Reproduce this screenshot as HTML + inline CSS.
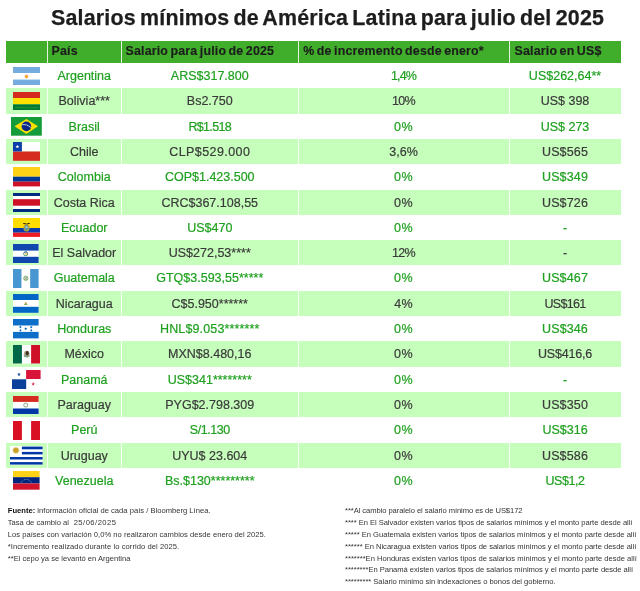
<!DOCTYPE html>
<html lang="es"><head><meta charset="utf-8"><title>Salarios mínimos de América Latina</title>
<style>
html,body{margin:0;padding:0;background:#fff;}
body{width:640px;height:591px;position:relative;overflow:hidden;font-family:"Liberation Sans",sans-serif;color:#333;}
h1{position:absolute;left:51px;top:6px;margin:0;font-size:21.4px;line-height:25px;font-weight:bold;color:#1d1d1d;letter-spacing:0.2px;word-spacing:-1.96px;-webkit-text-stroke:0.25px #1d1d1d;white-space:nowrap;}
.hd{position:absolute;left:6px;top:41px;width:615px;height:22px;background:#40ae2b;}
.hd span{position:absolute;top:-0.8px;height:22px;line-height:22px;font-weight:bold;font-size:12.4px;color:#1c1c1c;letter-spacing:0.18px;word-spacing:-1.2px;-webkit-text-stroke:0.15px #1c1c1c;white-space:nowrap;}
.sep{position:absolute;top:41px;width:1px;height:452px;background:rgba(255,255,255,.85);}
.r{position:absolute;left:6px;width:615px;height:25.3px;}
.r.a{color:#1fa11f;}
.r.b{background:#c6ffbb;color:#3a3a3a;}
.r span{position:absolute;top:1px;height:25.3px;line-height:25.3px;font-size:12.5px;text-align:center;white-space:nowrap;-webkit-text-stroke:0.2px currentColor;}
.c1{left:41px;width:74.5px;}
.c2{left:115.5px;width:176.5px;}
.c3{left:292px;width:211px;}
.c4{left:503px;width:112px;}
svg{position:absolute;display:block;}
.fn{position:absolute;font-size:7.6px;line-height:11.87px;color:#333;}
.fn p{margin:0;white-space:pre;}
.fn b{color:#111;}
</style></head><body>
<h1>Salarios mínimos de América Latina para julio del 2025</h1>
<div class="hd"><span style="left:45.6px">País</span><span style="left:119.5px">Salario para julio de 2025</span><span style="left:297.2px">% de incremento desde enero*</span><span style="left:508.6px">Salario en US$</span></div>
<div class="r a" style="top:63.0px"><span class="c1">Argentina</span><span class="c2">ARS$317.800</span><span class="c3" style="letter-spacing:-0.85px">1,4%</span><span class="c4">US$262,64**</span></div>
<div class="r b" style="top:88.3px"><span class="c1">Bolivia***</span><span class="c2">Bs2.750</span><span class="c3" style="letter-spacing:-0.65px">10%</span><span class="c4">US$ 398</span></div>
<div class="r a" style="top:113.6px"><span class="c1">Brasil</span><span class="c2" style="letter-spacing:-0.67px">R$1.518</span><span class="c3" style="letter-spacing:0.4px">0%</span><span class="c4">US$ 273</span></div>
<div class="r b" style="top:138.9px"><span class="c1">Chile</span><span class="c2" style="letter-spacing:0.42px">CLP$529.000</span><span class="c3">3,6%</span><span class="c4" style="letter-spacing:0.15px">US$565</span></div>
<div class="r a" style="top:164.2px"><span class="c1">Colombia</span><span class="c2">COP$1.423.500</span><span class="c3" style="letter-spacing:0.4px">0%</span><span class="c4" style="letter-spacing:0.15px">US$349</span></div>
<div class="r b" style="top:189.5px"><span class="c1">Costa Rica</span><span class="c2">CRC$367.108,55</span><span class="c3" style="letter-spacing:0.4px">0%</span><span class="c4" style="letter-spacing:0.15px">US$726</span></div>
<div class="r a" style="top:214.8px"><span class="c1">Ecuador</span><span class="c2">US$470</span><span class="c3" style="letter-spacing:0.4px">0%</span><span class="c4">-</span></div>
<div class="r b" style="top:240.1px"><span class="c1">El Salvador</span><span class="c2">US$272,53****</span><span class="c3" style="letter-spacing:-0.75px">12%</span><span class="c4">-</span></div>
<div class="r a" style="top:265.4px"><span class="c1">Guatemala</span><span class="c2">GTQ$3.593,55*****</span><span class="c3" style="letter-spacing:0.4px">0%</span><span class="c4" style="letter-spacing:0.15px">US$467</span></div>
<div class="r b" style="top:290.7px"><span class="c1">Nicaragua</span><span class="c2">C$5.950******</span><span class="c3" style="letter-spacing:0.2px">4%</span><span class="c4" style="letter-spacing:-0.7px">US$161</span></div>
<div class="r a" style="top:316.0px"><span class="c1">Honduras</span><span class="c2" style="letter-spacing:0.14px">HNL$9.053*******</span><span class="c3" style="letter-spacing:0.4px">0%</span><span class="c4" style="letter-spacing:0.1px">US$346</span></div>
<div class="r b" style="top:341.3px"><span class="c1">México</span><span class="c2">MXN$8.480,16</span><span class="c3" style="letter-spacing:0.4px">0%</span><span class="c4" style="letter-spacing:-0.2px">US$416,6</span></div>
<div class="r a" style="top:366.6px"><span class="c1">Panamá</span><span class="c2">US$341********</span><span class="c3" style="letter-spacing:0.4px">0%</span><span class="c4">-</span></div>
<div class="r b" style="top:391.9px"><span class="c1">Paraguay</span><span class="c2">PYG$2.798.309</span><span class="c3" style="letter-spacing:0.4px">0%</span><span class="c4" style="letter-spacing:0.15px">US$350</span></div>
<div class="r a" style="top:417.2px"><span class="c1">Perú</span><span class="c2" style="letter-spacing:-0.45px">S/1.130</span><span class="c3" style="letter-spacing:0.4px">0%</span><span class="c4">US$316</span></div>
<div class="r b" style="top:442.5px"><span class="c1">Uruguay</span><span class="c2">UYU$ 23.604</span><span class="c3" style="letter-spacing:0.4px">0%</span><span class="c4" style="letter-spacing:0.15px">US$586</span></div>
<div class="r a" style="top:467.8px"><span class="c1">Venezuela</span><span class="c2">Bs.$130*********</span><span class="c3" style="letter-spacing:0.4px">0%</span><span class="c4" style="letter-spacing:-0.45px">US$1,2</span></div>
<svg style="left:13px;top:66.5px;width:27.0px;height:18.5px" viewBox="0 0 27 18.5" preserveAspectRatio="none"><rect width="27" height="18.5" fill="#fff"/><rect width="27" height="6" fill="#74acdf"/><rect y="12.6" width="27" height="5.9" fill="#74acdf"/><circle cx="13.5" cy="9.4" r="1.5" fill="#f6b40e" stroke="#e0793a" stroke-width="0.5"/></svg>
<svg style="left:13px;top:91.9px;width:27.0px;height:18.6px" viewBox="0 0 27 18.6" preserveAspectRatio="none"><rect width="27" height="6.1" fill="#d52b1e"/><rect y="6.1" width="27" height="6.2" fill="#ffe000"/><rect y="12.3" width="27" height="6.3" fill="#007934"/><path d="M2 16.2l1.2-1.2 1.2 1.2 1.2-1.2 1.2 1.2 1.2-1.2 1.2 1.2 1.2-1.2 1.2 1.2 1.2-1.2 1.2 1.2 1.2-1.2 1.2 1.2 1.2-1.2 1.2 1.2 1.2-1.2 1.2 1.2 1.2-1.2 1.2 1.2 1.2-1.2" fill="none" stroke="#6cc02a" stroke-width="0.7" stroke-dasharray="0.9 0.9"/></svg>
<svg style="left:11.3px;top:117px;width:30.8px;height:18.7px" viewBox="0 0 30.8 18.7" preserveAspectRatio="none"><rect width="30.8" height="18.7" fill="#149b3a"/><polygon points="3.5,9.35 15.4,2 27,9.35 15.4,17" fill="#fedf00"/><circle cx="15.4" cy="9.4" r="4.8" fill="#0a2a86"/><path d="M11.2 7.6 Q15.5 6.6 19.9 10.4" fill="none" stroke="#cfd8ea" stroke-width="0.9"/></svg>
<svg style="left:13px;top:142.2px;width:27.0px;height:18.8px" viewBox="0 0 27 18.8" preserveAspectRatio="none"><rect width="27" height="9.5" fill="#fff"/><rect y="9.5" width="27" height="9.3" fill="#d52b1e"/><rect width="8.9" height="9.5" fill="#0b3ea8"/><polygon points="4.40,2.70 4.87,4.05 6.30,4.08 5.16,4.95 5.58,6.32 4.40,5.50 3.22,6.32 3.64,4.95 2.50,4.08 3.93,4.05" fill="#fff"/></svg>
<svg style="left:13px;top:167.3px;width:27.0px;height:19.4px" viewBox="0 0 27 19.4" preserveAspectRatio="none"><rect width="27" height="9.7" fill="#fcd116"/><rect y="9.7" width="27" height="5" fill="#003893"/><rect y="14.7" width="27" height="4.7" fill="#ce1126"/></svg>
<svg style="left:13px;top:192.9px;width:27.0px;height:19.1px" viewBox="0 0 27 19.1" preserveAspectRatio="none"><rect width="27" height="19.1" fill="#fff"/><rect width="27" height="3" fill="#002b7f"/><rect y="6.2" width="27" height="6.5" fill="#ce1126"/><rect y="16" width="27" height="3.1" fill="#002b7f"/></svg>
<svg style="left:13px;top:218px;width:27.0px;height:18.9px" viewBox="0 0 27 18.9" preserveAspectRatio="none"><rect width="27" height="10" fill="#ffdd00"/><rect y="10" width="27" height="4.7" fill="#0a3cae"/><rect y="14.7" width="27" height="4.2" fill="#ed1c24"/><path d="M10.1 5.1q1.7-.5 3.4.6q1.7-1.1 3.4-.6l-.2 1q-1.6-.3-3.2.9q-1.6-1.2-3.2-.9z" fill="#2f2a14"/><ellipse cx="13.5" cy="9.9" rx="3" ry="3.6" fill="#b9a23a"/><ellipse cx="13.5" cy="9.7" rx="1.9" ry="2.7" fill="#5f8f8a"/><ellipse cx="13.5" cy="9.2" rx="1.1" ry="1.3" fill="#9cc7e0"/><path d="M12.9 13.2h1.2l-.6 1.6z" fill="#8a6a2a"/></svg>
<svg style="left:13.45px;top:243.6px;width:25.6px;height:19.1px" viewBox="0 0 25.3 19.1" preserveAspectRatio="none"><rect width="25.3" height="19.1" fill="#fff"/><rect width="25.3" height="6.6" fill="#0f47af"/><rect y="12.8" width="25.3" height="6.3" fill="#0f47af"/><circle cx="12.5" cy="9.8" r="2" fill="none" stroke="#3f8f5a" stroke-width="0.9"/><path d="M10.9 9a2 2 0 0 1 3.4-.4" fill="none" stroke="#2f5fc0" stroke-width=".9"/><circle cx="12.7" cy="9.7" r="0.9" fill="#e8b33a"/></svg>
<svg style="left:13.35px;top:268.7px;width:25.6px;height:19.0px" viewBox="0 0 25.5 19" preserveAspectRatio="none"><rect width="25.5" height="19" fill="#fff"/><rect width="8.4" height="19" fill="#4997d0"/><rect x="17.1" width="8.4" height="19" fill="#4997d0"/><circle cx="12.8" cy="9.3" r="2.1" fill="#eef2ea" stroke="#62a463" stroke-width="0.9"/><path d="M11.6 8.2l2.2 2.6M13.8 8.2l-2.2 2.6" stroke="#6b6b5a" stroke-width=".6"/><circle cx="12.7" cy="9.2" r=".7" fill="#c8a27a"/></svg>
<svg style="left:13.35px;top:294.2px;width:25.6px;height:18.8px" viewBox="0 0 25.5 18.8" preserveAspectRatio="none"><rect width="25.5" height="18.8" fill="#fff"/><rect width="25.5" height="6" fill="#0067c6"/><rect y="12.8" width="25.5" height="6" fill="#0067c6"/><polygon points="12.7,7.8 14.6,10.9 10.8,10.9" fill="#7fb25a"/><circle cx="12.7" cy="9.3" r="0.8" fill="#e8a03a"/></svg>
<svg style="left:13.35px;top:319.4px;width:25.6px;height:19.4px" viewBox="0 0 25.5 19.4" preserveAspectRatio="none"><rect width="25.5" height="19.4" fill="#fff"/><rect width="25.5" height="6.5" fill="#0d6fc8"/><rect y="12.9" width="25.5" height="6.5" fill="#0d6fc8"/><polygon points="12.70,8.20 13.17,9.05 14.13,9.24 13.46,9.95 13.58,10.91 12.70,10.50 11.82,10.91 11.94,9.95 11.27,9.24 12.23,9.05" fill="#0d6fc8"/><polygon points="7.40,6.80 7.84,7.59 8.73,7.77 8.11,8.43 8.22,9.33 7.40,8.95 6.58,9.33 6.69,8.43 6.07,7.77 6.96,7.59" fill="#0d6fc8"/><polygon points="18.20,6.80 18.64,7.59 19.53,7.77 18.91,8.43 19.02,9.33 18.20,8.95 17.38,9.33 17.49,8.43 16.87,7.77 17.76,7.59" fill="#0d6fc8"/><polygon points="7.40,10.00 7.84,10.79 8.73,10.97 8.11,11.63 8.22,12.53 7.40,12.15 6.58,12.53 6.69,11.63 6.07,10.97 6.96,10.79" fill="#0d6fc8"/><polygon points="18.20,10.00 18.64,10.79 19.53,10.97 18.91,11.63 19.02,12.53 18.20,12.15 17.38,12.53 17.49,11.63 16.87,10.97 17.76,10.79" fill="#0d6fc8"/></svg>
<svg style="left:13px;top:345.1px;width:27.0px;height:18.5px" viewBox="0 0 27 18.5" preserveAspectRatio="none"><rect width="27" height="18.5" fill="#fff"/><rect width="8.9" height="18.5" fill="#006847"/><rect x="18.1" width="8.9" height="18.5" fill="#ce1126"/><ellipse cx="13.7" cy="9" rx="2.9" ry="3.3" fill="#a68c63" opacity=".75"/><ellipse cx="14.2" cy="8.2" rx="1.6" ry="2.3" fill="#3b3324"/><path d="M10.7 10.8q3 2.6 6 0" fill="none" stroke="#5f9a6a" stroke-width="0.9"/><circle cx="12.6" cy="10.9" r=".6" fill="#4aa0c8"/></svg>
<svg style="left:12.2px;top:370px;width:28.6px;height:19.0px" viewBox="0 0 28.6 19" preserveAspectRatio="none"><rect width="28.6" height="19" fill="#fff"/><rect x="14.1" width="14.5" height="9" fill="#d8143a"/><rect y="9.3" width="14.2" height="9.7" fill="#0a3f9c"/><polygon points="7.00,2.50 7.45,3.79 8.81,3.81 7.72,4.63 8.12,5.94 7.00,5.16 5.88,5.94 6.28,4.63 5.19,3.81 6.55,3.79" fill="#0a3f9c"/><polygon points="21.20,12.10 21.65,13.39 23.01,13.41 21.92,14.23 22.32,15.54 21.20,14.76 20.08,15.54 20.48,14.23 19.39,13.41 20.75,13.39" fill="#d8143a"/></svg>
<svg style="left:13.45px;top:395.8px;width:25.6px;height:18.6px" viewBox="0 0 25.3 18.6" preserveAspectRatio="none"><rect width="25.3" height="18.6" fill="#fff"/><rect width="25.3" height="5.9" fill="#d52b1e"/><rect y="12.5" width="25.3" height="6.1" fill="#0038a8"/><circle cx="12.6" cy="9.1" r="2" fill="#fff" stroke="#6f8a6a" stroke-width="0.8"/></svg>
<svg style="left:13px;top:420.8px;width:27.0px;height:19.0px" viewBox="0 0 27 19" preserveAspectRatio="none"><rect width="27" height="19" fill="#fff"/><rect width="8.9" height="19" fill="#d91023"/><rect x="18.1" width="8.9" height="19" fill="#d91023"/></svg>
<svg style="left:10.2px;top:446.4px;width:32.6px;height:18.9px" viewBox="0 0 32.6 18.9" preserveAspectRatio="none"><rect width="32.6" height="18.9" fill="#fff"/><rect x="11.9" y="0.6" width="20.7" height="2.7" fill="#0038a8"/><rect x="11.9" y="5.9" width="20.7" height="2.5" fill="#0038a8"/><rect y="11" width="32.6" height="2.5" fill="#0038a8"/><rect y="16.1" width="32.6" height="2.5" fill="#0038a8"/><circle cx="5.9" cy="4.3" r="3.4" fill="#d9c067" opacity="0.6"/><circle cx="5.9" cy="4.3" r="2.6" fill="#c9a227"/></svg>
<svg style="left:13px;top:471.3px;width:26.6px;height:18.7px" viewBox="0 0 26.6 18.7" preserveAspectRatio="none"><rect width="26.6" height="6.2" fill="#fcd116"/><rect y="6.2" width="26.6" height="6.3" fill="#00247d"/><rect y="12.5" width="26.6" height="6.2" fill="#cf142b"/><path d="M8 12 A5.6 5.2 0 0 1 18.6 12" fill="none" stroke="#c9d2ee" stroke-width="0.7" stroke-dasharray="0.7 0.75"/></svg>
<div class="sep" style="left:47px"></div>
<div class="sep" style="left:121px"></div>
<div class="sep" style="left:298px"></div>
<div class="sep" style="left:509px"></div>
<div class="fn" style="left:7.75px;top:505px">
<p style="letter-spacing:0.010px"><b>Fuente:</b> información oficial de cada país / Bloomberg Línea.</p>
<p>Tasa de cambio al <span style="letter-spacing:.48px"> 25/06/2025</span></p>
<p style="letter-spacing:0.015px">Los países con variación 0,0% no realizaron cambios desde enero del 2025.</p>
<p style="letter-spacing:0.062px">*Incremento realizado durante lo corrido del 2025.</p>
<p style="letter-spacing:-0.006px">**El cepo ya se levantó en Argentina</p>
</div>
<div class="fn" style="left:345px;top:505px">
<p style="letter-spacing:-0.069px">***Al cambio paralelo el salario mínimo es de US$172</p>
<p style="letter-spacing:-0.048px">**** En El Salvador existen varios tipos de salarios mínimos y el monto parte desde allí</p>
<p style="letter-spacing:-0.019px">***** En Guatemala existen varios tipos de salarios mínimos y el monto parte desde allí</p>
<p style="letter-spacing:-0.024px">****** En Nicaragua existen varios tipos de salarios mínimos y el monto parte desde allí</p>
<p style="letter-spacing:-0.009px">*******En Honduras existen varios tipos de salarios mínimos y el monto parte desde allí</p>
<p style="letter-spacing:-0.032px">********En Panamá existen varios tipos de salarios mínimos y el monto parte desde allí</p>
<p style="letter-spacing:-0.037px">********* Salario mínimo sin indexaciones o bonos del gobierno.</p>
</div>
</body></html>
